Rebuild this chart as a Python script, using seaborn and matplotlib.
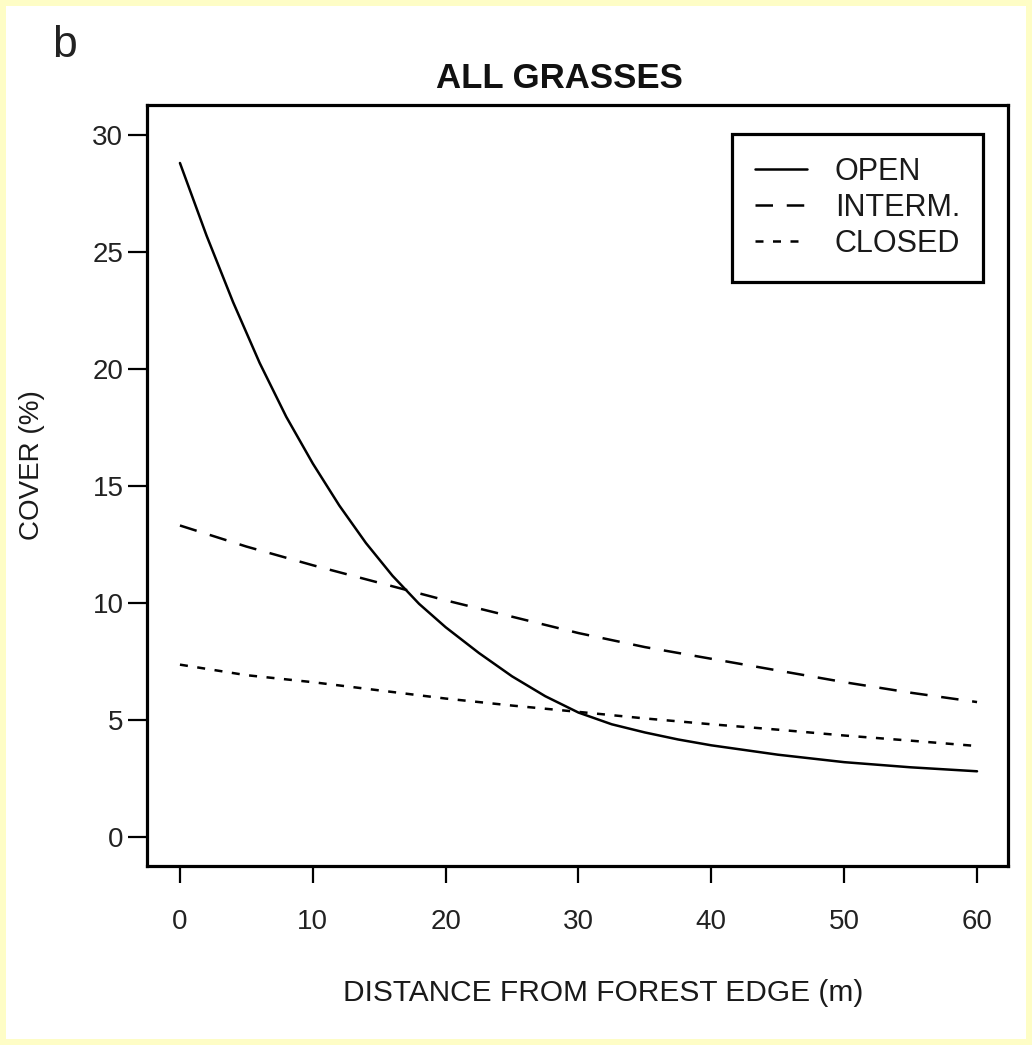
import numpy as np
import pandas as pd
import matplotlib
matplotlib.use("Agg")
import matplotlib.pyplot as plt
from matplotlib.patches import Rectangle
import seaborn as sns

# ---- data ----
open_x = [0, 2, 4, 6, 8, 10, 12, 14, 16, 18, 20, 22.5, 25, 27.5, 30, 32.5, 35, 37.5, 40, 45, 50, 55, 60]
open_y = [28.8, 25.7, 22.85, 20.25, 17.95, 15.95, 14.15, 12.55, 11.15, 9.95, 8.95, 7.85, 6.85, 6.0, 5.3,
          4.8, 4.45, 4.15, 3.9, 3.5, 3.18, 2.96, 2.79]
interm_x = [0, 5, 10, 15, 20, 25, 30, 35, 40, 45, 50, 55, 60]
interm_y = [13.3, 12.4, 11.6, 10.85, 10.1, 9.4, 8.7, 8.1, 7.6, 7.1, 6.6, 6.15, 5.75]
closed_x = [0, 5, 10, 15, 20, 25, 30, 35, 40, 45, 50, 55, 60]
closed_y = [7.35, 6.9, 6.6, 6.25, 5.9, 5.6, 5.33, 5.05, 4.8, 4.57, 4.32, 4.1, 3.87]
series_names = ["OPEN", "INTERM.", "CLOSED"]
x_ticks = [0, 10, 20, 30, 40, 50, 60]
y_ticks = [0, 5, 10, 15, 20, 25, 30]
title = "ALL GRASSES"
xlabel = "DISTANCE FROM FOREST EDGE (m)"
ylabel = "COVER (%)"
panel = "b"

sns.set_style("white")
plt.rcParams["font.family"] = ["Liberation Sans", "DejaVu Sans"]
plt.rcParams["text.color"] = "#1a1a1a"

W, H = 1032, 1045
fig = plt.figure(figsize=(W / 100, H / 100), dpi=100)
fig.patch.set_facecolor("#FEFDC6")
fig.add_artist(Rectangle((6 / W, 6 / H), 1 - 12 / W, 1 - 12 / H, transform=fig.transFigure,
                         facecolor="white", edgecolor="none", zorder=-10))

L, R, T, B = 147, 1008, 105, 866
ax = fig.add_axes([L / W, 1 - B / H, (R - L) / W, (B - T) / H])
ax.set_facecolor("white")

df = pd.concat([
    pd.DataFrame({"x": open_x, "y": open_y, "s": series_names[0]}),
    pd.DataFrame({"x": interm_x, "y": interm_y, "s": series_names[1]}),
    pd.DataFrame({"x": closed_x, "y": closed_y, "s": series_names[2]}),
])
dash_map = {series_names[0]: "", series_names[1]: (7.0, 5.5), series_names[2]: (3.2, 3.8)}
sns.lineplot(data=df, x="x", y="y", style="s", dashes=dash_map, color="black",
             linewidth=1.8, ax=ax, legend=True, sort=False)

ax.set_xlim(-2.48, 62.33)
ax.set_ylim(-1.26, 31.28)
ax.set_xticks(x_ticks)
ax.set_yticks(y_ticks)
ax.set_xticklabels([str(v) for v in x_ticks], fontsize=20, color="#222222")
ax.set_yticklabels([str(v) for v in y_ticks], fontsize=20, color="#222222")
ax.tick_params(axis="x", direction="out", length=12, width=1.6, pad=19, color="black", bottom=True)
ax.tick_params(axis="y", direction="out", length=14, width=1.6, pad=3, color="black", left=True)
for sp in ax.spines.values():
    sp.set_visible(True)
    sp.set_color("black")
    sp.set_linewidth(2.3)

ax.set_xlabel(xlabel, fontsize=21.5, color="#1a1a1a")
ax.xaxis.set_label_coords(0.53, -0.148)
ax.set_ylabel(ylabel, fontsize=20, color="#1a1a1a")
ax.yaxis.set_label_coords(-0.1185, 0.527)

ax.text(0.4785, 1.022, title, transform=ax.transAxes, ha="center", va="baseline",
        fontsize=25, fontweight="bold", color="#111111")
fig.text(52 / W, 1 - 57 / H, panel, fontsize=32, ha="left", va="baseline", color="#222222")

handles, labels = ax.get_legend_handles_labels()
for h in handles:
    h.set_linewidth(1.8)
    h.set_color("black")
leg = ax.legend(handles, labels, loc="upper right", bbox_to_anchor=(0.971, 0.962),
                bbox_transform=ax.transAxes, borderaxespad=0, fontsize=22,
                handlelength=1.7, handletextpad=0.9, labelspacing=0.2, borderpad=0.75,
                frameon=True, fancybox=False, framealpha=1, edgecolor="black")
leg.get_frame().set_linewidth(2.3)
for t in leg.get_texts():
    t.set_color("#1a1a1a")

fig.savefig("out.png", dpi=100, facecolor=fig.get_facecolor())
